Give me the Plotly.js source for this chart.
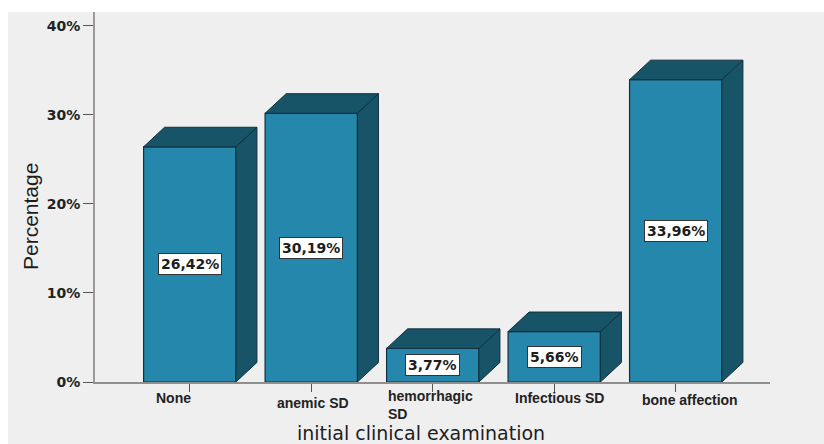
<!DOCTYPE html>
<html>
<head>
<meta charset="utf-8">
<script src="https://cdn.plot.ly/plotly-3.0.1.min.js"></script>
<style>html,body{margin:0;padding:0;background:#fff}</style>
</head>
<body>
<div id="chart" style="width:824px;height:444px"></div>
<script>
// Percentage of patients by initial clinical examination finding
const categories = ['None', 'anemic SD', 'hemorrhagic<br>SD', 'Infectious SD', 'bone affection'];
const values = [26.42, 30.19, 3.77, 5.66, 33.96];
const valueLabels = ['26,42%', '30,19%', '3,77%', '5,66%', '33,96%'];
const yTicks = [0, 10, 20, 30, 40];
const yTickLabels = ['0%', '10%', '20%', '30%', '40%'];

const W = 824, H = 444;
const margin = {l: 95, r: 54, t: 12, b: 62};
const plotW = W - margin.l - margin.r, plotH = H - margin.t - margin.b;

// Helpers turning page pixels into paper fractions for captions
const paperX = px => (px - margin.l) / plotW;
const paperY = py => (H - margin.b - py) / plotH;

// Axis ranges: one category step is about 121.5px, one percent about 8.9px
const xRange = [-0.78, 4.776];
const yRange = [0, 41.57];
const positions = categories.map((_, i) => i);
const barWidth = 0.76;
const depthX = 0.173;   // extrusion of the pseudo-3D box, in x units
const depthY = 2.2;     // extrusion of the pseudo-3D box, in percent

const front = '#2487ab', dark = '#175467', edge = '#12303e';

function polygons(corners) {
  const xs = [], ys = [];
  values.forEach((v, i) => {
    corners(i, v).forEach(p => { xs.push(p[0]); ys.push(p[1]); });
    xs.push(null); ys.push(null);
  });
  return {x: xs, y: ys};
}
const right = i => positions[i] + barWidth / 2;
const left = i => positions[i] - barWidth / 2;

const side = polygons((i, v) => [
  [right(i), 0], [right(i) + depthX, depthY], [right(i) + depthX, v + depthY], [right(i), v], [right(i), 0]
]);
const top_ = polygons((i, v) => [
  [left(i), v], [left(i) + depthX, v + depthY], [right(i) + depthX, v + depthY], [right(i), v], [left(i), v]
]);

const boxFace = p => ({
  x: p.x, y: p.y, type: 'scatter', mode: 'lines', fill: 'toself', fillcolor: dark,
  line: {color: edge, width: 1}, hoverinfo: 'skip', showlegend: false, connectgaps: false
});

const traces = [
  {
    x: positions, y: values, type: 'bar', width: barWidth,
    marker: {color: front, line: {color: edge, width: 1.2}},
    hoverinfo: 'skip', showlegend: false
  },
  boxFace(side),
  boxFace(top_)
];

const sans = 'Liberation Sans, Arial, sans-serif';
const wide = 'DejaVu Sans, Verdana, sans-serif';

// Value boxes sit at the middle of each bar
const valueAnnotations = values.map((v, i) => ({
  x: positions[i], y: v / 2, xref: 'x', yref: 'y', text: '<b>' + valueLabels[i] + '</b>',
  showarrow: false, bgcolor: '#ffffff', bordercolor: '#333', borderwidth: 1, borderpad: 2,
  font: {family: wide, size: 14, color: '#1d1d1d'}
}));

// Category captions sit individually under their ticks: horizontal shift, page y of the first line
const captionOffsets = [[-16, 398], [2, 403], [-2, 397], [5, 398], [14, 400]];
const categoryAnnotations = categories.map((c, i) => ({
  x: positions[i], xref: 'x', xshift: captionOffsets[i][0],
  y: paperY(captionOffsets[i][1]), yref: 'paper',
  yanchor: 'middle', yshift: i === 2 ? -8 : 0,
  align: i === 2 ? 'left' : 'center',
  text: '<b>' + c + '</b>', showarrow: false,
  font: {family: sans, size: 14, color: '#222'}
}));

const layout = {
  width: W, height: H, margin: margin,
  paper_bgcolor: '#ffffff', plot_bgcolor: '#efefef',
  font: {family: sans, color: '#222'},
  xaxis: {
    range: xRange, tickmode: 'array', tickvals: positions, ticktext: categories.map(() => ''),
    ticks: 'outside', ticklen: 8, tickcolor: '#555', tickwidth: 1,
    showline: true, linecolor: '#8f8f8f', linewidth: 2, showgrid: false, zeroline: false,
    fixedrange: true
  },
  yaxis: {
    range: yRange, tickmode: 'array', tickvals: yTicks, ticktext: yTickLabels,
    ticks: 'outside', ticklen: 10, tickcolor: '#555', tickwidth: 1,
    tickfont: {family: wide, size: 14, color: '#222', weight: 'bold'},
    showline: true, linecolor: '#9a9a9a', linewidth: 2, showgrid: false, zeroline: false,
    fixedrange: true
  },
  shapes: [{
    // Grey panel behind the whole chart
    type: 'rect', layer: 'below', xref: 'paper', yref: 'paper', line: {width: 0}, fillcolor: '#efefef',
    x0: paperX(8), x1: paperX(W), y0: paperY(H), y1: 1
  }],
  annotations: valueAnnotations.concat(categoryAnnotations, [
    {
      xref: 'paper', yref: 'paper', x: paperX(421), y: paperY(432.5), yanchor: 'middle', xanchor: 'center',
      text: 'initial clinical examination', showarrow: false,
      font: {family: wide, size: 19, color: '#1d1d1d'}
    },
    {
      xref: 'paper', yref: 'paper', x: paperX(30), y: paperY(217), yanchor: 'middle', xanchor: 'center',
      text: 'Percentage', textangle: -90, showarrow: false,
      font: {family: sans, size: 21, color: '#1d1d1d'}
    }
  ])
};

Plotly.newPlot('chart', traces, layout, {displayModeBar: false, staticPlot: true});
</script>
</body>
</html>
